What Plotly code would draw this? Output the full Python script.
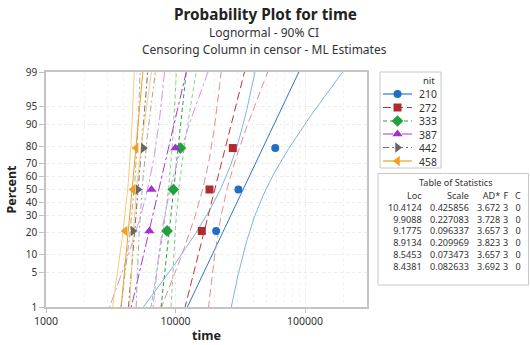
import math
from statistics import NormalDist
import numpy as np
import plotly.graph_objects as go

# ---------------- data ----------------
groups = ["210", "272", "333", "387", "442", "458"]
times_210 = [20600, 30600, 58900]
times_272 = [15960, 18300, 27700]
times_333 = [8610, 9630, 10910]
times_387 = [6290, 6520, 9985]
times_442 = [4690, 5125, 5650]
times_458 = [4085, 4690, 4965]
loc = [10.4124, 9.9088, 9.1775, 8.9134, 8.5453, 8.4381]
scale = [0.425856, 0.227083, 0.096337, 0.209969, 0.073473, 0.082633]
ad = [3.672, 3.728, 3.657, 3.823, 3.657, 3.692]
n_fail = [3, 3, 3, 3, 3, 3]
n_cens = [0, 0, 0, 0, 0, 0]
percent_ticks = [1, 5, 10, 20, 30, 40, 50, 60, 70, 80, 90, 95, 99]
x_ticks = [1000, 10000, 100000]
conf = 0.90

all_times = [times_210, times_272, times_333, times_387, times_442, times_458]

# ---------------- styles ----------------
mark_col = ["#1f6fc6", "#b02a2e", "#22a03c", "#a530d2", "#666666", "#f0a020"]
fit_col = ["#2f74cc", "#b8383b", "#27a040", "#a838d6", "#6e6e6e", "#f0a020"]
ci_col = ["#80b2e6", "#e0908f", "#82d08f", "#d493ee", "#a8a8a8", "#f8cd7a"]
dashes = ["solid", "8px,4px", "4px,3px", "10px,3px,3px,3px", "6px,3px,2px,3px", "solid"]
symbols = ["circle", "square", "diamond", "triangle-up", "triangle-right", "triangle-left"]
msizes = [8, 8, 9, 9, 9, 9]

FONT = "Noto Sans"
W, H = 530, 345
L, R, T, B = 46, 0, 72, 38
PX_RIGHT = 367
pw = W - L - R
ph = H - T - B


def px(xp):
    return (xp - L) / pw


def py(yp):
    return (H - B - yp) / ph


nd = NormalDist()
zq = NormalDist().inv_cdf(0.5 + conf / 2)
zmin, zmax = nd.inv_cdf(0.01), nd.inv_cdf(0.99)
zgrid = np.linspace(-2.6, 2.6, 121)

fig = go.Figure()

for i, g in enumerate(groups):
    mu, s, n = loc[i], scale[i], n_fail[i]
    center = mu + s * zgrid
    se = s * np.sqrt(1.0 / n + zgrid ** 2 / (2.0 * n))
    lo = np.exp(center - zq * se)
    hi = np.exp(center + zq * se)
    for arr in (lo, hi):
        fig.add_trace(go.Scatter(x=arr, y=zgrid, mode="lines",
                                 line=dict(color=ci_col[i], width=1, dash=dashes[i]),
                                 showlegend=False, hoverinfo="skip"))
    fig.add_trace(go.Scatter(x=np.exp(center), y=zgrid, mode="lines",
                             line=dict(color=fit_col[i], width=1, dash=dashes[i]),
                             showlegend=False, hoverinfo="skip"))

for i, g in enumerate(groups):
    t = sorted(all_times[i])
    nn = len(t)
    zpos = [nd.inv_cdf((k + 1 - 0.3) / (nn + 0.4)) for k in range(nn)]
    fig.add_trace(go.Scatter(x=t, y=zpos, mode="markers",
                             marker=dict(symbol=symbols[i], color=mark_col[i], size=msizes[i],
                                         line=dict(width=0)),
                             showlegend=False, name=g))

# ---------------- legend (manual, on inset axes in pixel units) ----------------
LEG_X0, LEG_X1, LEG_Y0, LEG_Y1 = 380, 441, 72, 168
row_y = [94, 107.5, 121, 134, 147.5, 161]
for i, g in enumerate(groups):
    fig.add_trace(go.Scatter(x=[383, 412], y=[row_y[i], row_y[i]], mode="lines",
                             line=dict(color=fit_col[i], width=1.2, dash=dashes[i]),
                             xaxis="x2", yaxis="y2", showlegend=False, hoverinfo="skip"))
    fig.add_trace(go.Scatter(x=[397.5], y=[row_y[i]], mode="markers",
                             marker=dict(symbol=symbols[i], color=mark_col[i], size=msizes[i]),
                             xaxis="x2", yaxis="y2", showlegend=False, hoverinfo="skip"))
fig.add_annotation(x=418, y=(row_y[0] + row_y[-1]) / 2, xref="x2", yref="y2",
                   text="<br>".join(groups), showarrow=False, align="left",
                   xanchor="left", yanchor="middle", borderpad=0,
                   font=dict(family=FONT, size=10.4, color="#333333"))
fig.add_annotation(x=436, y=80.5, xref="x2", yref="y2", text="nit", showarrow=False,
                   xanchor="right", yanchor="middle", borderpad=0,
                   font=dict(family=FONT, size=9.5, color="#333333"))

shapes = [
    dict(type="rect", xref="paper", yref="paper", x0=px(LEG_X0), x1=px(LEG_X1),
         y0=py(LEG_Y1), y1=py(LEG_Y0), line=dict(color="#c8c8c8", width=1)),
    dict(type="rect", xref="paper", yref="paper", x0=px(378), x1=px(528.5),
         y0=py(285), y1=py(173.5), line=dict(color="#c8c8c8", width=1)),
]

# ---------------- table of statistics ----------------
TS = 9.1
tf = dict(family=FONT, size=TS, color="#333333")
fig.add_annotation(x=px(456), y=py(182.5), xref="paper", yref="paper", text="Table of Statistics",
                   showarrow=False, xanchor="center", yanchor="middle", font=tf, borderpad=0)
col_right = [423, 470, 501, 508.5, 521.5]
headers = ["Loc", "Scale", "AD*", "F", "C"]
columns = [
    [f"{v:.4f}" for v in loc],
    [f"{v:.6f}" for v in scale],
    [f"{v:.3f}" for v in ad],
    [str(v) for v in n_fail],
    [str(v) for v in n_cens],
]
for c, h in enumerate(headers):
    fig.add_annotation(x=px(col_right[c]), y=py((195.5 + 266.5) / 2), xref="paper", yref="paper",
                       text="<br>".join([h] + columns[c]), showarrow=False, align="right",
                       xanchor="right", yanchor="middle", font=tf, borderpad=0)

# ---------------- titles ----------------
fig.add_annotation(x=px(265), y=py(14), xref="paper", yref="paper",
                   text="<b>Probability Plot for time</b>", showarrow=False,
                   xanchor="center", yanchor="middle", borderpad=0,
                   font=dict(family=FONT, size=15.3, color="#222222"))
fig.add_annotation(x=px(264), y=py(32.5), xref="paper", yref="paper",
                   text="Lognormal - 90% CI", showarrow=False,
                   xanchor="center", yanchor="middle", borderpad=0,
                   font=dict(family=FONT, size=12, color="#333333"))
fig.add_annotation(x=px(264), y=py(49.5), xref="paper", yref="paper",
                   text="Censoring Column in censor - ML Estimates", showarrow=False,
                   xanchor="center", yanchor="middle", borderpad=0,
                   font=dict(family=FONT, size=12, color="#333333"))

log_right = 3 + (PX_RIGHT - L) / 129.5
minor_vals = [m * 10 ** e for e in (3, 4, 5) for m in range(2, 10)]

fig.update_layout(
    width=W, height=H,
    margin=dict(l=L, r=R, t=T, b=B),
    paper_bgcolor="white", plot_bgcolor="white",
    showlegend=False,
    shapes=shapes,
    xaxis=dict(type="log", range=[3, log_right], domain=[0, px(PX_RIGHT)],
               tickvals=x_ticks, ticktext=[str(v) for v in x_ticks],
               ticks="outside", ticklen=4, tickcolor="#c0c0c0",
               tickfont=dict(family=FONT, size=10.5, color="#333333"),
               showline=True, linecolor="#c4c4c4", linewidth=1.5, mirror=True,
               showgrid=True, gridcolor="#ececec", griddash="dot", gridwidth=1,
               minor=dict(tickvals=minor_vals, showgrid=True, gridcolor="#f1f1f1",
                          griddash="dot", ticks=""),
               zeroline=False,
               title=dict(text="<b>time</b>", standoff=4,
                          font=dict(family=FONT, size=12.5, color="#222222"))),
    yaxis=dict(range=[zmin, zmax],
               tickvals=[nd.inv_cdf(p / 100) for p in percent_ticks],
               ticktext=[str(p) for p in percent_ticks],
               ticks="outside", ticklen=5, tickcolor="#c0c0c0",
               tickfont=dict(family=FONT, size=10, color="#333333"),
               showline=True, linecolor="#c4c4c4", linewidth=1.5, mirror=True,
               showgrid=True, gridcolor="#ececec", griddash="dot", gridwidth=1,
               zeroline=False,
               title=dict(text="<b>Percent</b>", standoff=6,
                          font=dict(family=FONT, size=12.5, color="#222222"))),
    xaxis2=dict(domain=[px(LEG_X0), px(LEG_X1)], range=[LEG_X0, LEG_X1], visible=False,
                anchor="y2", fixedrange=True),
    yaxis2=dict(domain=[py(LEG_Y1), py(LEG_Y0)], range=[LEG_Y1, LEG_Y0], visible=False,
                anchor="x2", fixedrange=True),
)

fig.write_html("out.html")
